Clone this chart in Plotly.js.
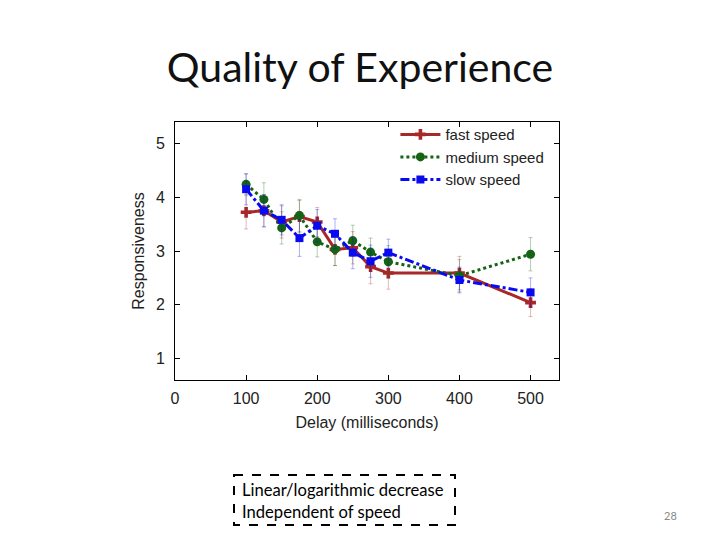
<!DOCTYPE html>
<html>
<head>
<meta charset="utf-8">
<script src="https://cdn.plot.ly/plotly-3.0.1.min.js"></script>
<style>
html,body{margin:0;padding:0;background:#fff;}
#chart{width:720px;height:540px;}
</style>
</head>
<body>
<div id="chart"></div>
<script>
// Data
var delays = [100, 125, 150, 175, 200, 225, 250, 275, 300, 400, 500];
var fastSpeed   = [3.72, 3.75, 3.54, 3.64, 3.54, 3.03, 3.06, 2.71, 2.59, 2.59, 2.04];
var mediumSpeed = [4.24, 3.96, 3.43, 3.66, 3.17, 3.03, 3.19, 2.98, 2.80, 2.54, 2.94];
var slowSpeed   = [4.15, 3.75, 3.58, 3.24, 3.47, 3.32, 2.97, 2.81, 2.97, 2.46, 2.23];
var fastErr     = [0.31, 0.30, 0.30, 0.30, 0.27, 0.30, 0.30, 0.32, 0.30, 0.31, 0.26];
var mediumErr   = [0.19, 0.31, 0.30, 0.30, 0.28, 0.30, 0.29, 0.26, 0.30, 0.30, 0.31];
var slowErr     = [0.29, 0.30, 0.28, 0.34, 0.30, 0.28, 0.30, 0.30, 0.25, 0.24, 0.27];
var xTicks = [0, 100, 200, 300, 400, 500];
var yTicks = [1, 2, 3, 4, 5];
var seriesNames = ["fast speed", "medium speed", "slow speed"];

var plotFont = "Liberation Sans, Arial, sans-serif";
var slideFont = "Lato, 'Open Sans', sans-serif";

function series(name, y, err, color, errColor, dash, symbol, msize) {
  return {
    type: "scatter", mode: "lines+markers", name: name,
    x: delays, y: y,
    line: {color: color, width: 3, dash: dash},
    marker: {color: color, symbol: symbol, size: msize},
    error_y: {type: "data", array: err, visible: true, color: errColor, thickness: 0.8, width: 2}
  };
}

var traces = [
  series(seriesNames[0], fastSpeed, fastErr, "#a8282a", "rgba(168,40,42,0.4)", "solid", "cross", 9),
  series(seriesNames[1], mediumSpeed, mediumErr, "#146414", "rgba(20,100,20,0.4)", "dot", "circle", 9),
  series(seriesNames[2], slowSpeed, slowErr, "#0a0af0", "rgba(10,10,240,0.4)", "dashdot", "square", 8)
];

var layout = {
  width: 720, height: 540,
  margin: {l: 175, r: 161, t: 122, b: 160},
  paper_bgcolor: "#ffffff", plot_bgcolor: "#ffffff",
  font: {family: plotFont, size: 16, color: "#222"},
  title: {text: "Quality of Experience", font: {family: slideFont, size: 41, color: "#111"},
          x: (360 - 175) / 384, xanchor: "center", xref: "paper", y: 1 - 68 / 540, yanchor: "middle"},
  showlegend: true,
  legend: {x: 0.975, xanchor: "right", y: 1.015, yanchor: "top", bgcolor: "rgba(0,0,0,0)",
           font: {family: plotFont, size: 15, color: "#222"}, itemwidth: 40, tracegroupgap: 0},
  xaxis: {
    range: [0, 540], tickvals: xTicks, ticktext: xTicks.map(String),
    ticks: "inside", ticklen: 5, tickcolor: "#000", mirror: "ticks",
    showline: true, linecolor: "#000", linewidth: 1, showgrid: false, zeroline: false,
    ticklabelstandoff: 4,
    title: {text: "Delay (milliseconds)", font: {family: plotFont, size: 16, color: "#222"}, standoff: 10},
    automargin: false
  },
  yaxis: {
    range: [0.6, 5.4], tickvals: yTicks, ticktext: yTicks.map(String),
    ticks: "inside", ticklen: 5, tickcolor: "#000", mirror: "ticks",
    showline: true, linecolor: "#000", linewidth: 1, showgrid: false, zeroline: false,
    ticklabelstandoff: 6,
    title: {text: "Responsiveness", font: {family: plotFont, size: 16, color: "#222"}, standoff: 7},
    automargin: false
  },
  shapes: [{
    type: "rect", xref: "paper", yref: "paper",
    x0: (234 - 175) / 384, x1: (455 - 175) / 384,
    y0: (380 - 475) / 258, y1: (380 - 525) / 258,
    line: {color: "#000", width: 2, dash: "dash"}, fillcolor: "rgba(0,0,0,0)"
  }],
  annotations: [
    {text: "Linear/logarithmic decrease<br>Independent of speed", xref: "paper", yref: "paper",
     x: (240 - 175) / 384, y: (380 - 501) / 258, xanchor: "left", yanchor: "middle", align: "left",
     showarrow: false, font: {family: slideFont, size: 16.6, color: "#000"}},
    {text: "28", xref: "paper", yref: "paper",
     x: (670 - 175) / 384, y: (380 - 515) / 258, xanchor: "center", yanchor: "middle",
     showarrow: false, font: {family: slideFont, size: 11, color: "#888"}}
  ]
};

Plotly.newPlot("chart", traces, layout, {displayModeBar: false, staticPlot: true});
</script>
</body>
</html>
